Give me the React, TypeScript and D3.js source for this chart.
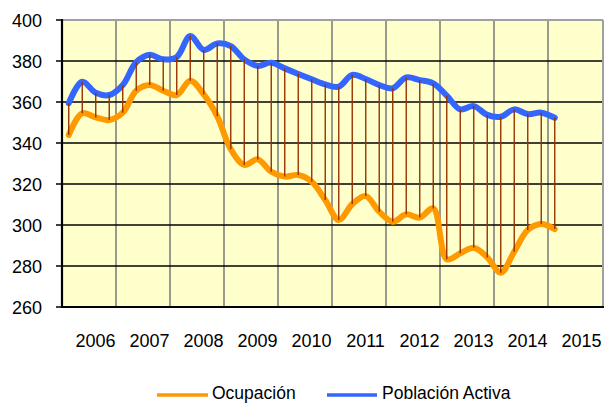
import React from 'react';
import * as d3 from 'd3';

const years = ['2006', '2007', '2008', '2009', '2010', '2011', '2012', '2013', '2014', '2015'];
const yTicks = [260, 280, 300, 320, 340, 360, 380, 400];
// Quarterly values, 2006 Q1 .. 2015 Q1
const ocupacion = [343.9, 354.5, 352.5, 351.2, 354.8, 365.5, 368.3, 365.5, 363.4, 370.4, 363.7, 353, 337, 329.3, 332, 326, 323.6, 324.4, 321.1, 312.2, 302.4, 310.2, 314.1, 306.5, 301.6, 305.2, 303.6, 308.1, 283.3, 286.2, 288.9, 284.2, 276.7, 287, 297.6, 300.5, 298];
const poblacionActiva = [359.4, 369.9, 364.5, 363.4, 368.3, 379.4, 383, 380.8, 382, 392.2, 385.4, 388.6, 387.3, 380.8, 377.6, 379.2, 376.4, 373.7, 371.1, 368.6, 367.5, 373.2, 371.2, 368.3, 366.7, 372, 370.7, 369.1, 363.1, 356.4, 358, 353.7, 352.8, 356.4, 354.1, 354.8, 352.3];
const seriesNames = ['Ocupación', 'Población Activa'];

const W = 606, H = 403;
const L = 62, R = 602, T = 20, B = 307;
const FONT = '"Liberation Sans", Arial, sans-serif';

export default function App() {
  const x = d3.scaleLinear().domain([0, years.length * 4]).range([L, R]);
  const y = d3.scaleLinear().domain([260, 400]).range([B, T]);
  const line = d3.line<number>()
    .x((_, i) => x(i + 0.5))
    .y(d => y(d))
    .curve(d3.curveCatmullRom.alpha(0.5));
  const yearX = d3.scaleBand().domain(years).range([L, R]);

  return (
    <svg width={W} height={H} style={{ position: 'absolute', left: 0, top: 0 }} fontFamily={FONT}>
      <rect x={0} y={0} width={W} height={H} fill="#fff" />
      <rect x={L} y={T} width={R - L} height={B - T} fill="#FFFFCC" />
      {/* vertical gridlines */}
      {years.map((yr, k) => k > 0 && (
        <line key={yr} x1={yearX(yr)} x2={yearX(yr)} y1={T} y2={B} stroke="#808080" strokeWidth={1.6} />
      ))}
      {/* horizontal gridlines */}
      {yTicks.filter(t => t > 260 && t < 400).map(t => (
        <line key={t} x1={L} x2={R} y1={y(t)} y2={y(t)} stroke="#000" strokeWidth={1.3} />
      ))}
      {/* border top/right */}
      <line x1={L} x2={R + 1} y1={T} y2={T} stroke="#a0a0a0" strokeWidth={2} />
      <line x1={R + 1} x2={R + 1} y1={T} y2={B} stroke="#a0a0a0" strokeWidth={2} />
      {/* axes */}
      <line x1={L} x2={R + 2} y1={B} y2={B} stroke="#000" strokeWidth={2.2} />
      <line x1={L} x2={L} y1={T - 1} y2={B + 1} stroke="#000" strokeWidth={2.2} />
      {yTicks.map(t => (
        <g key={t}>
          <line x1={L - 6} x2={L} y1={y(t)} y2={y(t)} stroke="#000" strokeWidth={1.5} />
          <text x={42} y={y(t) + 6.5} textAnchor="end" fontSize={18} fill="#000">{t}</text>
        </g>
      ))}
      {years.map(yr => (
        <text key={yr} x={(yearX(yr) as number) + yearX.bandwidth() / 2 + 6.5} y={347} textAnchor="middle" fontSize={18} fill="#000">{yr}</text>
      ))}
      {/* series */}
      <path d={line(ocupacion) || ''} fill="none" stroke="#FF9900" strokeWidth={6} strokeLinejoin="round" strokeLinecap="round" />
      <path d={line(poblacionActiva) || ''} fill="none" stroke="#3366FF" strokeWidth={6} strokeLinejoin="round" strokeLinecap="round" />
      {/* drop lines */}
      {ocupacion.map((v, i) => (
        <line key={i} x1={x(i + 0.5)} x2={x(i + 0.5)} y1={y(v)} y2={y(poblacionActiva[i])} stroke="#993300" strokeWidth={1.4} />
      ))}
      {/* legend */}
      <line x1={157} x2={208} y1={395} y2={395} stroke="#FF9900" strokeWidth={3.5} />
      <text x={212} y={399} fontSize={17.5} fill="#000">{seriesNames[0]}</text>
      <line x1={327} x2={377} y1={395} y2={395} stroke="#3366FF" strokeWidth={3.5} />
      <text x={382} y={399} fontSize={17.5} fill="#000">{seriesNames[1]}</text>
    </svg>
  );
}
